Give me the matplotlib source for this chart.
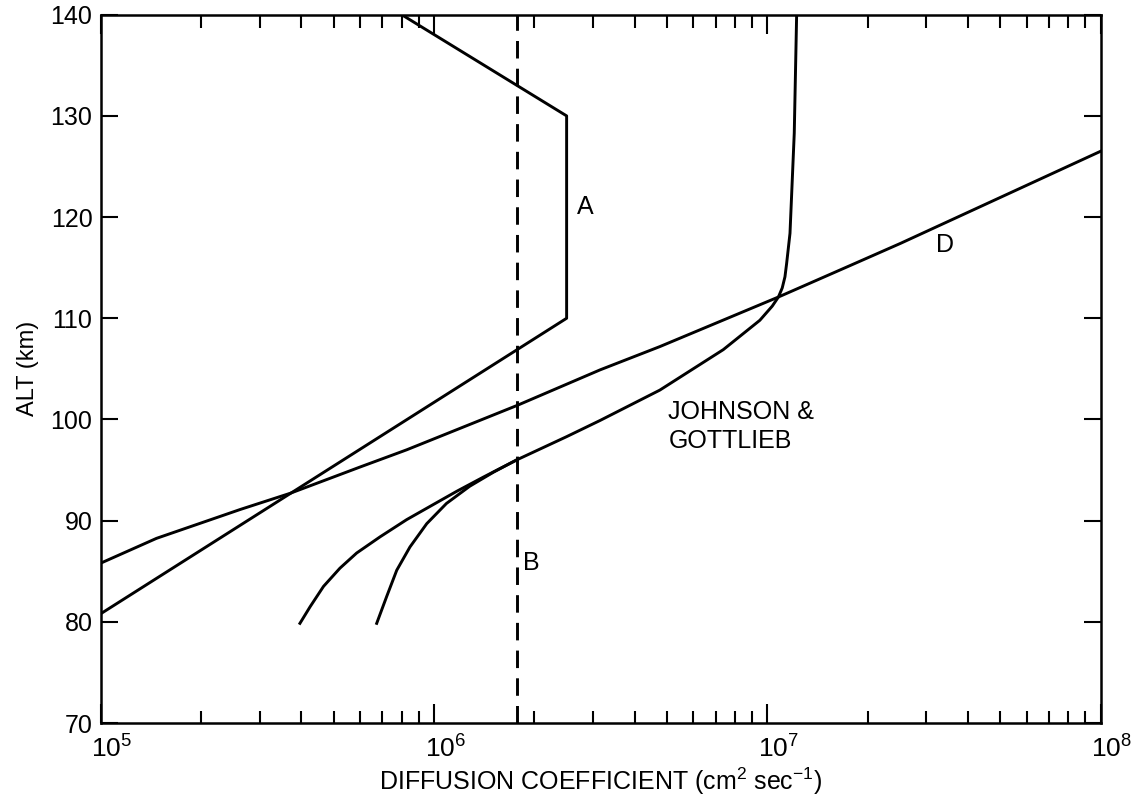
import matplotlib
matplotlib.use("Agg")
import matplotlib.pyplot as plt
from matplotlib.ticker import LogLocator, FixedLocator, NullFormatter
from matplotlib.transforms import ScaledTranslation

plt.rcParams['font.family'] = ['Liberation Sans', 'DejaVu Sans']
plt.rcParams['mathtext.fontset'] = 'custom'
plt.rcParams['mathtext.rm'] = 'Liberation Sans'
plt.rcParams['mathtext.it'] = 'Liberation Sans'

# curve A (piecewise profile)
a_x = [8.0e5, 2.5e6, 2.5e6, 1.0e5]
a_alt = [140, 130, 110, 80.8]

# curve B (constant)
b_x = [1.78e6, 1.78e6]
b_alt = [70, 140]

# curve D
d_x = [1.0e5, 1.47e5, 2.62e5, 3.70e5, 6.0e5, 8.28e5, 1.78e6, 3.15e6, 4.76e6,
       1.08e7, 1.77e7, 2.51e7, 1.0e8]
d_alt = [85.8, 88.25, 91.1, 92.7, 95.3, 97.0, 101.4, 104.9, 107.2,
         112.1, 115.2, 117.4, 126.5]

# Johnson & Gottlieb, outer branch continuing upward
jg_x = [3.96e5, 4.25e5, 4.66e5, 5.22e5, 5.86e5, 6.89e5, 8.28e5, 9.72e5,
        1.17e6, 1.406e6, 1.77e6, 2.5e6, 3.15e6, 4.76e6, 7.38e6, 9.5e6,
        1.035e7, 1.08e7, 1.109e7, 1.13e7, 1.143e7, 1.17e7, 1.205e7, 1.225e7]
jg_alt = [79.85, 81.5, 83.5, 85.3, 86.8, 88.4, 90.1, 91.4,
          92.9, 94.3, 96.0, 98.3, 99.9, 102.9, 106.9, 109.8,
          111.2, 112.1, 113.0, 114.1, 115.4, 118.4, 128.3, 140]

# Johnson & Gottlieb, inner branch
jg2_x = [6.73e5, 7.21e5, 7.73e5, 8.47e5, 9.51e5, 1.09e6, 1.28e6, 1.51e6, 1.77e6]
jg2_alt = [79.85, 82.5, 85.1, 87.4, 89.7, 91.7, 93.4, 94.8, 96.0]

fig = plt.figure(figsize=(11.32, 7.99), dpi=100)
ax = fig.add_axes([0.0890, 0.0951, 0.8832, 0.8865])

lw = 2.1
ax.plot(a_x, a_alt, color='black', lw=lw)
ax.plot(b_x, b_alt, color='black', lw=lw, dashes=(6, 3.5))
ax.plot(d_x, d_alt, color='black', lw=lw)
ax.plot(jg_x, jg_alt, color='black', lw=lw)
ax.plot(jg2_x, jg2_alt, color='black', lw=lw)

ax.set_xscale('log')
ax.set_xlim(1e5, 1e8)
ax.set_ylim(70, 140)

ax.xaxis.set_major_locator(FixedLocator([1e5, 1e6, 1e7, 1e8]))
ax.set_xticklabels(['$10^5$', '$10^6$', '$10^7$', '$10^8$'])
ax.xaxis.set_minor_locator(LogLocator(base=10, subs=range(2, 10)))
ax.xaxis.set_minor_formatter(NullFormatter())
ax.set_yticks(range(70, 141, 10))

ax.tick_params(axis='both', which='major', direction='in', top=True, right=True,
               labelsize=19, width=1.5, pad=6)
ax.tick_params(axis='x', which='major', length=14, pad=9)
ax.tick_params(axis='y', which='major', length=12, labelsize=18)
ax.tick_params(axis='x', which='minor', direction='in', top=True, length=9, width=1.5)
for s in ax.spines.values():
    s.set_linewidth(1.8)

# shift x tick labels so the base "10" sits on the tick
shift = ScaledTranslation(8 / 72, 0, fig.dpi_scale_trans)
for lab in ax.get_xticklabels():
    lab.set_transform(lab.get_transform() + shift)

ax.text(2.84e6, 121.0, 'A', fontsize=18, ha='center', va='center')
ax.text(1.965e6, 85.8, 'B', fontsize=18, ha='center', va='center')
ax.text(3.41e7, 117.2, 'D', fontsize=18, ha='center', va='center')
ax.text(5.05e6, 99.3, 'JOHNSON &\nGOTTLIEB', fontsize=18, ha='left', va='center',
        linespacing=1.3)

ax.set_xlabel('DIFFUSION COEFFICIENT (cm$^{2}$ sec$^{-1}$)', fontsize=18, labelpad=2)
ax.set_ylabel('ALT (km)', fontsize=17, labelpad=8)

fig.savefig('out.png', dpi=100)
